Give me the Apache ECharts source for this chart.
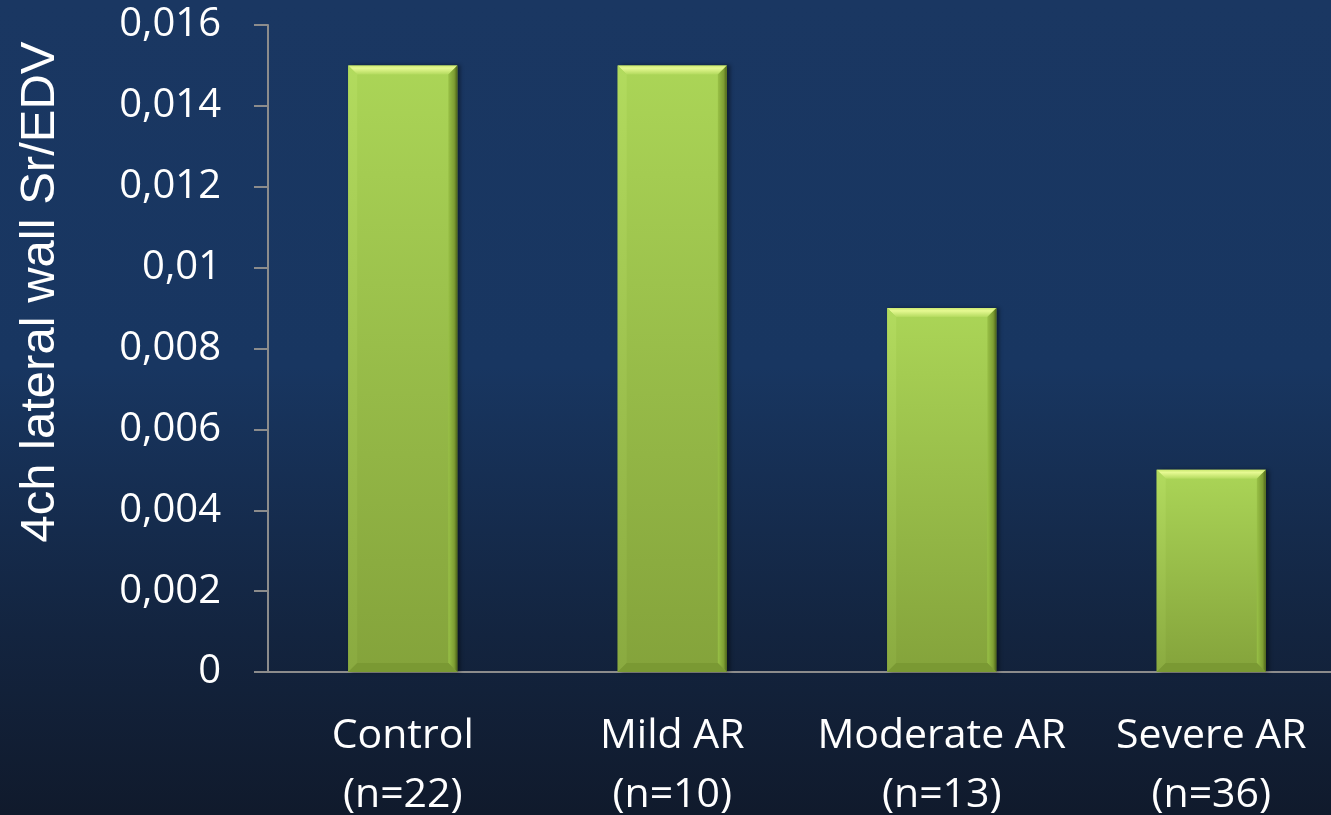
<!DOCTYPE html>
<html>
<head>
<meta charset="utf-8">
<script src="https://cdn.jsdelivr.net/npm/echarts@6/dist/echarts.min.js"></script>
<style>
  html, body { margin: 0; padding: 0; }
  #main {
    width: 1331px; height: 815px;
    background: linear-gradient(to bottom, #1a3762 0%, #183661 45%, #13243f 78%, #101a2c 100%);
  }
</style>
</head>
<body>
<div id="main"></div>
<script>
var categories = ['Control\n(n=22)', 'Mild AR\n(n=10)', 'Moderate AR\n(n=13)', 'Severe AR\n(n=36)'];
var values = [0.015, 0.015, 0.009, 0.005];
var yTitle = '4ch lateral wall Sr/EDV';

var myChart = echarts.init(document.getElementById('main'));

// beveled green bar, like the office chart style
function renderBar(params, api) {
  var top = api.coord([api.value(0), api.value(1)]);
  var base = api.coord([api.value(0), 0]);
  var w = api.size([1, 0])[0] * 0.405;
  var l = top[0] - w / 2, r = top[0] + w / 2, t = top[1], b = base[1];
  var bv = 9;
  return {
    type: 'group',
    children: [
      {
        type: 'rect',
        shape: { x: l, y: t, width: w, height: b - t },
        style: {
          fill: new echarts.graphic.LinearGradient(0, 0, 0, 1, [
            { offset: 0, color: '#abd557' },
            { offset: 1, color: '#84a33b' }
          ]),
          shadowColor: 'rgba(0,0,0,0.45)', shadowBlur: 4, shadowOffsetX: 3
        }
      },
      {
        type: 'polygon',
        shape: { points: [[l, t], [r, t], [r - bv, t + bv], [l + bv, t + bv]] },
        style: {
          fill: new echarts.graphic.LinearGradient(0, 0, 0, 1, [
            { offset: 0, color: '#cdea72' },
            { offset: 0.3, color: '#e6f992' },
            { offset: 1, color: '#b3da5e' }
          ])
        }
      },
      {
        type: 'polygon',
        shape: { points: [[r, t], [r, b], [r - bv, b - bv], [r - bv, t + bv]] },
        style: {
          fill: new echarts.graphic.LinearGradient(1, 0, 0, 0, [
            { offset: 0, color: '#4c6319' },
            { offset: 0.35, color: '#7e9e33' },
            { offset: 1, color: '#98c046' }
          ])
        }
      },
      {
        type: 'polygon',
        shape: { points: [[l, t], [l + bv, t + bv], [l + bv, b - bv], [l, b]] },
        style: {
          fill: new echarts.graphic.LinearGradient(0, 0, 0, 1, [
            { offset: 0, color: '#b2db5e' },
            { offset: 1, color: '#8aaa40' }
          ])
        }
      },
      {
        type: 'polygon',
        shape: { points: [[l, b], [l + bv, b - bv], [r - bv, b - bv], [r, b]] },
        style: { fill: '#7a9933' }
      }
    ]
  };
}

var option = {
  animation: false,
  grid: { left: 268, top: 25, right: -15, bottom: 143, outerBoundsMode: 'none', containLabel: false },
  xAxis: {
    type: 'category',
    data: categories,
    axisLine: { lineStyle: { color: '#8c8c8c', width: 2 } },
    axisTick: { length: 14, lineStyle: { color: '#8c8c8c', width: 2 } },
    axisLabel: {
      color: '#ffffff',
      fontFamily: 'Open Sans',
      fontSize: 41,
      lineHeight: 59,
      margin: 35,
      interval: 0
    }
  },
  yAxis: {
    type: 'value',
    min: 0,
    max: 0.016,
    interval: 0.002,
    splitLine: { show: false },
    axisLine: { show: true, lineStyle: { color: '#8c8c8c', width: 2 } },
    axisTick: { show: true, length: 14, lineStyle: { color: '#8c8c8c', width: 2 } },
    axisLabel: {
      color: '#ffffff',
      fontFamily: 'Open Sans',
      fontSize: 40,
      margin: 47,
      formatter: function (v) {
        return String(+v.toFixed(3)).replace('.', ',');
      }
    }
  },
  graphic: [{
    type: 'text',
    x: 40,
    y: 292,
    rotation: Math.PI / 2,
    style: {
      text: yTitle,
      fill: '#ffffff',
      font: '49px "Liberation Sans", Arial, sans-serif',
      align: 'center',
      verticalAlign: 'middle'
    }
  }],
  series: [{
    type: 'custom',
    renderItem: renderBar,
    data: categories.map(function (c, i) { return [i, values[i]]; }),
    encode: { x: 0, y: 1 }
  }]
};

myChart.setOption(option);
</script>
</body>
</html>
